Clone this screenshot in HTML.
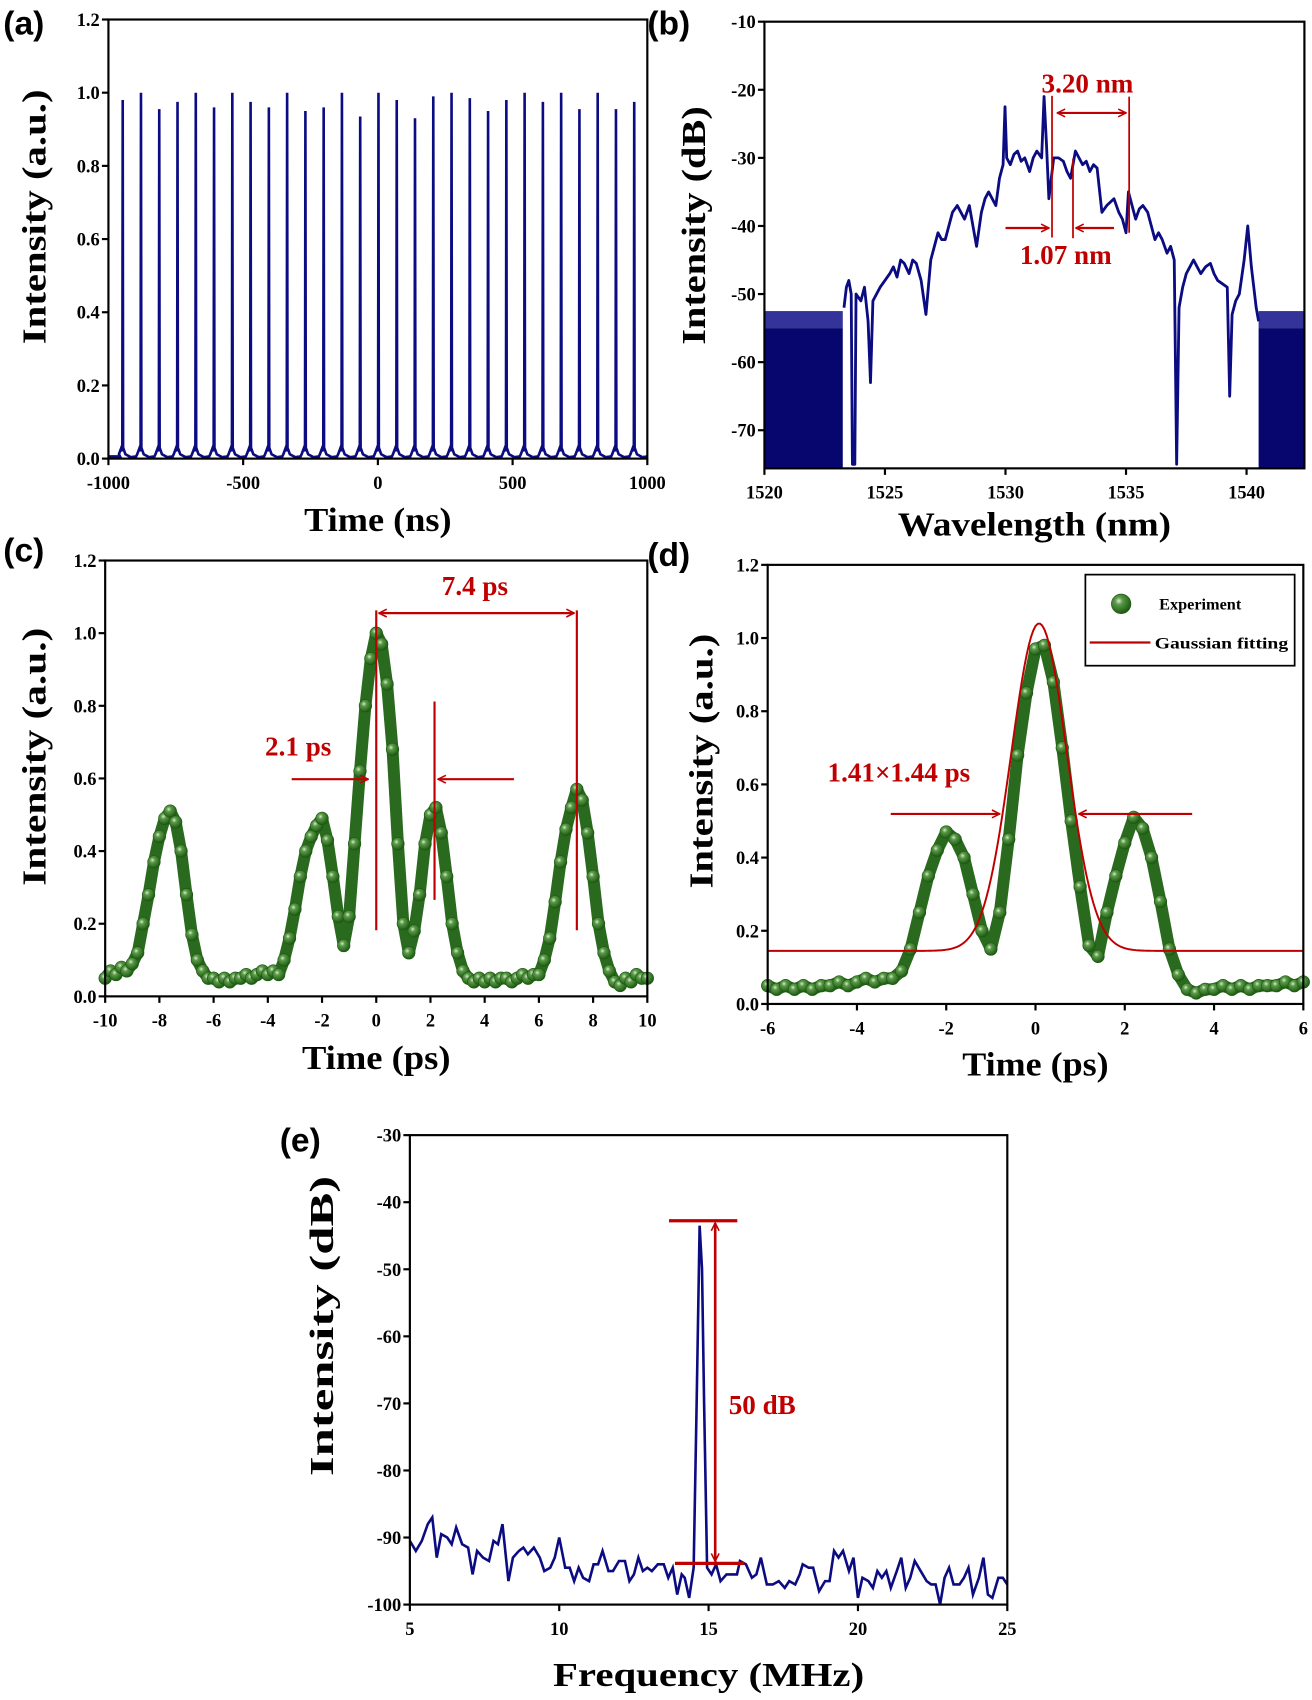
<!DOCTYPE html>
<html><head><meta charset="utf-8"><style>
html,body{margin:0;padding:0;background:#fff;}
svg{display:block;}
text{font-family:"Liberation Serif",serif;font-weight:bold;}
</style></head><body>
<svg id="fig" xmlns="http://www.w3.org/2000/svg" width="1312" height="1700" viewBox="0 0 1210 1568" preserveAspectRatio="none">
<defs>
<radialGradient id="ball" cx="0.38" cy="0.35" r="0.65">
<stop offset="0" stop-color="#d8ecd0"/><stop offset="0.3" stop-color="#5b9a48"/><stop offset="1" stop-color="#1d5a12"/>
</radialGradient>
<marker id="ah" viewBox="0 0 10 10" refX="9" refY="5" markerWidth="9" markerHeight="9" markerUnits="userSpaceOnUse" orient="auto-start-reverse"><path d="M1,1 L9,5 L1,9" fill="none" stroke="#c00000" stroke-width="1.6"/></marker>
</defs>
</svg>
<script>
// ---- data: panel (a) pulse train ----
const pulseHeights=[0.98,1.0,0.955,0.975,1.0,0.96,1.0,0.975,0.96,1.0,0.95,0.96,1.0,0.935,1.0,0.98,0.93,0.99,1.0,0.985,0.95,0.98,1.0,0.975,1.0,0.955,1.0,0.955,0.975];
const pulseStart=-947, pulsePeriod=67.8;
// ---- data: panel (b) spectrum ----
const specWl=[1523.3,1523.4,1523.5,1523.6,1523.65,1523.75,1523.8,1524.0,1524.15,1524.3,1524.4,1524.5,1524.65,1524.8,1525.0,1525.2,1525.35,1525.5,1525.65,1525.8,1526.0,1526.15,1526.3,1526.5,1526.7,1526.9,1527.05,1527.2,1527.35,1527.5,1527.65,1527.8,1528.0,1528.15,1528.3,1528.5,1528.65,1528.8,1529.0,1529.15,1529.3,1529.45,1529.6,1529.75,1529.9,1529.98,1530.05,1530.2,1530.35,1530.5,1530.65,1530.8,1531.0,1531.15,1531.3,1531.5,1531.6,1531.7,1531.8,1532.0,1532.2,1532.4,1532.55,1532.7,1532.9,1533.05,1533.2,1533.35,1533.5,1533.65,1533.8,1534.0,1534.2,1534.35,1534.5,1534.7,1534.85,1535.0,1535.1,1535.25,1535.4,1535.55,1535.7,1535.9,1536.05,1536.2,1536.35,1536.5,1536.7,1536.85,1537.0,1537.1,1537.2,1537.35,1537.5,1537.65,1537.8,1537.95,1538.1,1538.3,1538.5,1538.65,1538.8,1539.0,1539.2,1539.3,1539.4,1539.55,1539.7,1539.9,1540.05,1540.2,1540.3,1540.4,1540.5];
const specDb=[-52,-49,-48,-50,-75,-75,-50,-51,-49,-54,-63,-51,-50,-49,-48,-47,-46,-47.5,-45,-45.5,-47,-45,-45.5,-48,-53,-45,-43,-41,-42,-42,-40,-38,-37,-38,-39,-37,-40,-43,-38,-36,-35,-36,-37,-33,-31,-22.5,-30,-31,-29.5,-29,-30.5,-30,-32,-30,-29,-30,-21,-28,-36,-30,-30,-30.5,-32,-33,-29,-30,-31,-30.5,-32,-31,-31.5,-38,-37,-36.5,-36,-38,-39,-41,-35,-37,-39,-37.5,-37,-38,-40,-42,-41,-42,-44,-43,-45,-75,-52,-49,-47,-46,-45,-46,-47,-46,-45.5,-47,-48,-48.5,-49,-65,-53,-51,-50,-45,-40,-46,-49,-52,-54];
const noiseBands=[[1520,1523.25,-55],[1540.5,1542.4,-55]];
// ---- data: panel (c) autocorrelation ----
const cStart=-10, cStep=0.2;
const cVals=[0.05,0.07,0.06,0.08,0.07,0.09,0.12,0.2,0.28,0.37,0.44,0.49,0.51,0.48,0.4,0.28,0.17,0.1,0.07,0.05,0.05,0.04,0.05,0.04,0.05,0.05,0.06,0.05,0.06,0.07,0.06,0.07,0.06,0.1,0.16,0.24,0.33,0.4,0.44,0.47,0.49,0.43,0.33,0.22,0.14,0.22,0.42,0.62,0.8,0.93,1.0,0.97,0.86,0.68,0.42,0.2,0.12,0.18,0.28,0.42,0.5,0.52,0.45,0.33,0.2,0.12,0.07,0.05,0.04,0.05,0.04,0.05,0.04,0.05,0.05,0.04,0.05,0.06,0.05,0.06,0.06,0.1,0.16,0.26,0.37,0.46,0.52,0.57,0.54,0.45,0.33,0.2,0.12,0.07,0.04,0.03,0.05,0.04,0.06,0.05,0.05];
// ---- data: panel (d) autocorrelation + fit ----
const dStart=-6, dStep=0.2;
const dVals=[0.05,0.04,0.05,0.04,0.05,0.04,0.05,0.05,0.06,0.05,0.06,0.07,0.06,0.07,0.07,0.09,0.15,0.25,0.35,0.42,0.47,0.45,0.4,0.3,0.2,0.15,0.25,0.45,0.68,0.85,0.97,0.98,0.88,0.7,0.5,0.32,0.16,0.13,0.25,0.35,0.44,0.51,0.48,0.4,0.28,0.15,0.08,0.04,0.03,0.04,0.04,0.05,0.04,0.05,0.04,0.05,0.05,0.05,0.06,0.05,0.06];
const fitCenter=0.08, fitAmp=0.895, fitBase=0.145, fitSigma=0.62;
// ---- data: panel (e) RF spectrum ----
const rfFreq=[5.0,5.2,5.4,5.6,5.75,5.9,6.05,6.25,6.4,6.55,6.75,6.95,7.1,7.25,7.45,7.65,7.8,7.95,8.1,8.3,8.45,8.65,8.8,8.95,9.15,9.35,9.5,9.7,9.85,10.0,10.2,10.35,10.5,10.65,10.8,11.0,11.15,11.3,11.45,11.65,11.8,12.0,12.2,12.35,12.5,12.65,12.8,12.95,13.1,13.3,13.5,13.65,13.8,13.95,14.1,14.2,14.35,14.5,14.6,14.7,14.78,14.85,14.95,15.1,15.25,15.4,15.6,15.8,15.95,16.05,16.25,16.45,16.6,16.75,16.95,17.15,17.35,17.55,17.7,17.9,18.05,18.15,18.35,18.5,18.7,18.9,19.05,19.2,19.35,19.5,19.7,19.85,20.0,20.15,20.35,20.5,20.65,20.8,20.95,21.1,21.3,21.45,21.6,21.75,21.9,22.1,22.3,22.45,22.6,22.75,22.9,23.05,23.2,23.4,23.55,23.7,23.85,24.05,24.2,24.35,24.5,24.7,24.85,25.0];
const rfDb=[-90.5,-92,-90.5,-88,-87,-93,-89.5,-90,-91,-88.5,-91,-91.5,-95.5,-92,-93,-93.5,-90.5,-91,-88,-96.5,-93,-92,-91.5,-92.5,-91.5,-93,-95,-94.5,-93,-90,-94.5,-94.5,-96.5,-94.5,-96,-96.5,-94,-94,-92,-95,-95,-93.5,-93.5,-96.5,-95.5,-93,-95,-94.5,-95,-94,-94,-96,-94.5,-98.5,-95.5,-96,-99,-94.5,-70,-43.5,-50,-70,-94.5,-95.5,-94,-96.5,-95.5,-95.5,-95.5,-93.5,-94,-96,-95.5,-93,-97,-97,-96.5,-97.5,-96.5,-97,-95.5,-94,-94.5,-94.5,-98,-96.5,-96.5,-92,-93,-92,-95,-93,-99,-96,-96.5,-97.5,-95,-96,-95,-97.5,-95,-93,-97.5,-96,-93.5,-95,-96.5,-97,-97,-100,-96,-94.5,-97,-97,-96,-94.5,-98.5,-96,-93,-98.5,-99,-96,-96,-97];
// tick arrays
const aXTicks=[-1000,-500,0,500,1000], aYTicks=[0,0.2,0.4,0.6,0.8,1.0,1.2];
const bXTicks=[1520,1525,1530,1535,1540], bYTicks=[-70,-60,-50,-40,-30,-20,-10];
const cXTicks=[-10,-8,-6,-4,-2,0,2,4,6,8,10], cYTicks=[0,0.2,0.4,0.6,0.8,1.0,1.2];
const dXTicks=[-6,-4,-2,0,2,4,6], dYTicks=[0,0.2,0.4,0.6,0.8,1.0,1.2];
const eXTicks=[5,10,15,20,25], eYTicks=[-100,-90,-80,-70,-60,-50,-40,-30];

const NS='http://www.w3.org/2000/svg';
const svg=document.getElementById('fig');
function mk(tag,attrs,parent){const e=document.createElementNS(NS,tag);for(const k in attrs)e.setAttribute(k,attrs[k]);(parent||svg).appendChild(e);return e;}
function txt(s,attrs,parent){const t=mk('text',attrs,parent);t.textContent=s;return t;}

function axes(name,o){
  const g=mk('g',{});
  
  
  const sx=v=>o.x0+(v-o.xmin)/(o.xmax-o.xmin)*(o.x1-o.x0);
  const sy=v=>o.y0-(v-o.ymin)/(o.ymax-o.ymin)*(o.y0-o.y1);
  o.xticks.forEach(v=>{
    const l=mk('line',{x1:sx(v),x2:sx(v),y1:o.y0,y2:o.y0+6,stroke:'#000','stroke-width':2},g);
    
    
    const t=txt(String(v),{x:sx(v),y:o.y0+28,'text-anchor':'middle','font-size':17},g);
    
    
  });
  o.yticks.forEach(v=>{
    const l=mk('line',{x1:o.x0-6,x2:o.x0,y1:sy(v),y2:sy(v),stroke:'#000','stroke-width':2},g);
    
    
    const t=txt(o.fmt(v),{x:o.x0-8,y:sy(v)+6,'text-anchor':'end','font-size':17},g);
    
    
  });
  const xt=txt(o.xtitle,{x:(o.x0+o.x1)/2,y:o.xty,'text-anchor':'middle','font-size':31,textLength:o.xtw,lengthAdjust:'spacingAndGlyphs'},g);
  
  
  const yt=txt(o.ytitle,{x:0,y:0,'text-anchor':'middle','font-size':31,textLength:o.ytw,lengthAdjust:'spacingAndGlyphs',transform:`translate(${o.ytx},${o.ytc}) rotate(-90)`},g);
  
  
  const lt=txt(o.letter,{x:o.lx,y:o.ly,'font-size':31,style:'font-family:"Liberation Sans",sans-serif;font-weight:bold'},g);
  
  
  const plot=mk('g',{});
  
  
  const fr=mk('rect',{x:o.x0,y:o.y1,width:o.x1-o.x0,height:o.y0-o.y1,fill:'none',stroke:'#000','stroke-width':2});
  
  
  return {sx,sy,plot,g};
}
const f1=v=>v.toFixed(1), f0=v=>String(v);
function redLine(x1,y1,x2,y2,w,arrow){const l=mk('line',{x1,y1,x2,y2,stroke:'#c00000','stroke-width':w||2});if(arrow==='end'||arrow==='both')l.setAttribute('marker-end','url(#ah)');if(arrow==='both'||arrow==='start')l.setAttribute('marker-start','url(#ah)');return l;}
function redText(s,x,y,size){return txt(s,{x,y,'text-anchor':'middle','font-size':size||26,fill:'#c00000'});}

// ===== Panel A =====
const A=axes('panel-a',{x0:100,x1:597,y0:423,y1:18,xmin:-1000,xmax:1000,ymin:0,ymax:1.2,xticks:aXTicks,yticks:aYTicks,fmt:f1,xtitle:'Time (ns)',xty:490,xtw:136,ytitle:'Intensity (a.u.)',ytx:42,ytc:200,ytw:235,letter:'(a)',lx:3,ly:32});
{
  let d=`M${A.sx(-1000)},${A.sy(0.006)} L${A.sx(pulseStart-10)},${A.sy(0.006)}`;
  pulseHeights.forEach((h,i)=>{
    const t=pulseStart+i*pulsePeriod;
    d+=` L${A.sx(t-14)},${A.sy(0.012)} L${A.sx(t-6)},${A.sy(0.028)} L${A.sx(t-1.5)},${A.sy(0.02)} L${A.sx(t)},${A.sy(h)} L${A.sx(t+1.5)},${A.sy(0.03)} L${A.sx(t+10)},${A.sy(0.012)} L${A.sx(t+30)},${A.sy(0.004)} L${A.sx(t+pulsePeriod-18)},${A.sy(0.006)}`;
  });
  d+=` L${A.sx(1000)},${A.sy(0.006)}`;
  const p=mk('path',{d,fill:'none',stroke:'#0b0b82','stroke-width':2.4},A.plot);
  
  
}
// ===== Panel B =====
const B=axes('panel-b',{x0:705,x1:1203,y0:432,y1:20,xmin:1520,xmax:1542.4,ymin:-75.6,ymax:-10,xticks:bXTicks,yticks:bYTicks,fmt:f0,xtitle:'Wavelength (nm)',xty:494,xtw:252,ytitle:'Intensity (dB)',ytx:650,ytc:208,ytw:220,letter:'(b)',lx:597,ly:32});
noiseBands.forEach(nb=>{
  const r=mk('rect',{x:B.sx(nb[0]),y:B.sy(nb[2]),width:B.sx(nb[1])-B.sx(nb[0]),height:B.sy(-75.6)-B.sy(nb[2]),fill:'#06066e'},B.plot);
  
  
  const r2=mk('rect',{x:B.sx(nb[0]),y:B.sy(nb[2]+2.5),width:B.sx(nb[1])-B.sx(nb[0]),height:B.sy(nb[2])-B.sy(nb[2]+2.5),fill:'#33339a'},B.plot);
  
  
});
{
  let d='';
  specWl.forEach((w,i)=>{d+=(i?' L':'M')+B.sx(w)+','+B.sy(specDb[i]);});
  const p=mk('path',{d,fill:'none',stroke:'#0b0b82','stroke-width':2.6,'stroke-linejoin':'round'},B.plot);
  
  
}
redLine(B.sx(1531.93),B.sy(-20.9),B.sx(1531.93),B.sy(-41.7),1.6);
redLine(B.sx(1532.8),B.sy(-30.1),B.sx(1532.8),B.sy(-41.8),1.6);
redLine(B.sx(1535.13),B.sy(-21),B.sx(1535.13),B.sy(-41),1.6);
redLine(B.sx(1532.15),B.sy(-23.4),B.sx(1535.0),B.sy(-23.4),2,'both');
redLine(B.sx(1530.0),B.sy(-40.3),B.sx(1531.8),B.sy(-40.3),2,'end');
redLine(B.sx(1534.5),B.sy(-40.3),B.sx(1532.92),B.sy(-40.3),2,'end');
redText('3.20 nm',B.sx(1533.4),B.sy(-20.4),25);
redText('1.07 nm',B.sx(1532.5),B.sy(-45.6),25);

// ===== Panel C =====
const C=axes('panel-c',{x0:97,x1:597,y0:919,y1:517,xmin:-10,xmax:10,ymin:0,ymax:1.2,xticks:cXTicks,yticks:cYTicks,fmt:f1,xtitle:'Time (ps)',xty:986,xtw:137,ytitle:'Intensity (a.u.)',ytx:42,ytc:698,ytw:238,letter:'(c)',lx:3,ly:518});
function balls(P,start,step,vals,name){
  let d='';
  vals.forEach((v,i)=>{d+=(i?' L':'M')+P.sx(start+i*step)+','+P.sy(v);});
  const p=mk('path',{d,fill:'none',stroke:'#2a6a1e','stroke-width':11,'stroke-linejoin':'round'},P.plot);
  
  
  vals.forEach((v,i)=>{
    const c=mk('circle',{cx:P.sx(start+i*step),cy:P.sy(v),r:5.8,fill:'url(#ball)',stroke:'#1d5a12','stroke-width':0.6},P.plot);
    
    
  });
}
balls(C,cStart,cStep,cVals,'autocorrelation');
redLine(C.sx(0),563,C.sx(0),858,2);
redLine(C.sx(7.4),563,C.sx(7.4),858,2);
redLine(C.sx(2.15),647,C.sx(2.15),830,2);
redLine(C.sx(0.1),565.5,C.sx(7.3),565.5,2,'both');
redLine(269,718.7,339.5,718.7,2,'end');
redLine(474,718.7,404,718.7,2,'end');
redText('7.4 ps',438,549,25);
redText('2.1 ps',275,697,25);

// ===== Panel D =====
const D=axes('panel-d',{x0:708,x1:1202,y0:926,y1:521,xmin:-6,xmax:6,ymin:0,ymax:1.2,xticks:dXTicks,yticks:dYTicks,fmt:f1,xtitle:'Time (ps)',xty:992,xtw:135,ytitle:'Intensity (a.u.)',ytx:657,ytc:702,ytw:235,letter:'(d)',lx:597,ly:522});
balls(D,dStart,dStep,dVals,'experiment');
{
  let d='';
  for(let i=0;i<=240;i++){const x=-6+i*0.05;const y=fitBase+fitAmp*Math.exp(-((x-fitCenter)**2)/(2*fitSigma*fitSigma));d+=(i?' L':'M')+D.sx(x)+','+D.sy(y);}
  const p=mk('path',{d,fill:'none',stroke:'#c00000','stroke-width':1.8},D.plot);
  
  
}
redLine(821.5,750.7,922,750.7,2,'end');
redLine(1099.5,750.7,995,750.7,2,'end');
redText('1.41×1.44 ps',829,721,25);
{
  const lg=mk('g',{});
  
  
  mk('rect',{x:1001,y:530,width:193,height:84,fill:'#fff',stroke:'#000','stroke-width':1.6},lg);
  const c=mk('circle',{cx:1034,cy:557,r:9,fill:'url(#ball)',stroke:'#1d5a12','stroke-width':0.6},lg);
  
  
  const t1=txt('Experiment',{x:1069,y:562,'font-size':15},lg);
  
  
  const l=mk('line',{x1:1005,x2:1061,y1:592.6,y2:592.6,stroke:'#c00000','stroke-width':2},lg);
  
  
  const t2=txt('Gaussian fitting',{x:1065,y:598,'font-size':15,textLength:123,lengthAdjust:'spacingAndGlyphs'},lg);
  
  
}

// ===== Panel E =====
const E=axes('panel-e',{x0:378,x1:929,y0:1480,y1:1047,xmin:5,xmax:25,ymin:-100,ymax:-30,xticks:eXTicks,yticks:eYTicks,fmt:f0,xtitle:'Frequency (MHz)',xty:1555,xtw:287,ytitle:'Intensity (dB)',ytx:307,ytc:1223,ytw:277,letter:'(e)',lx:258,ly:1062});
{
  let d='';
  rfFreq.forEach((f,i)=>{d+=(i?' L':'M')+E.sx(f)+','+E.sy(rfDb[i]);});
  const p=mk('path',{d,fill:'none',stroke:'#0b0b82','stroke-width':2.4},E.plot);
  
  
}
redLine(617,1126,680,1126,3);
redLine(622.5,1442,686.5,1442,3);
redLine(659.6,1128,659.6,1440,2.4,'both');
redText('50 dB',703,1304,25);
</script>
</body></html>
